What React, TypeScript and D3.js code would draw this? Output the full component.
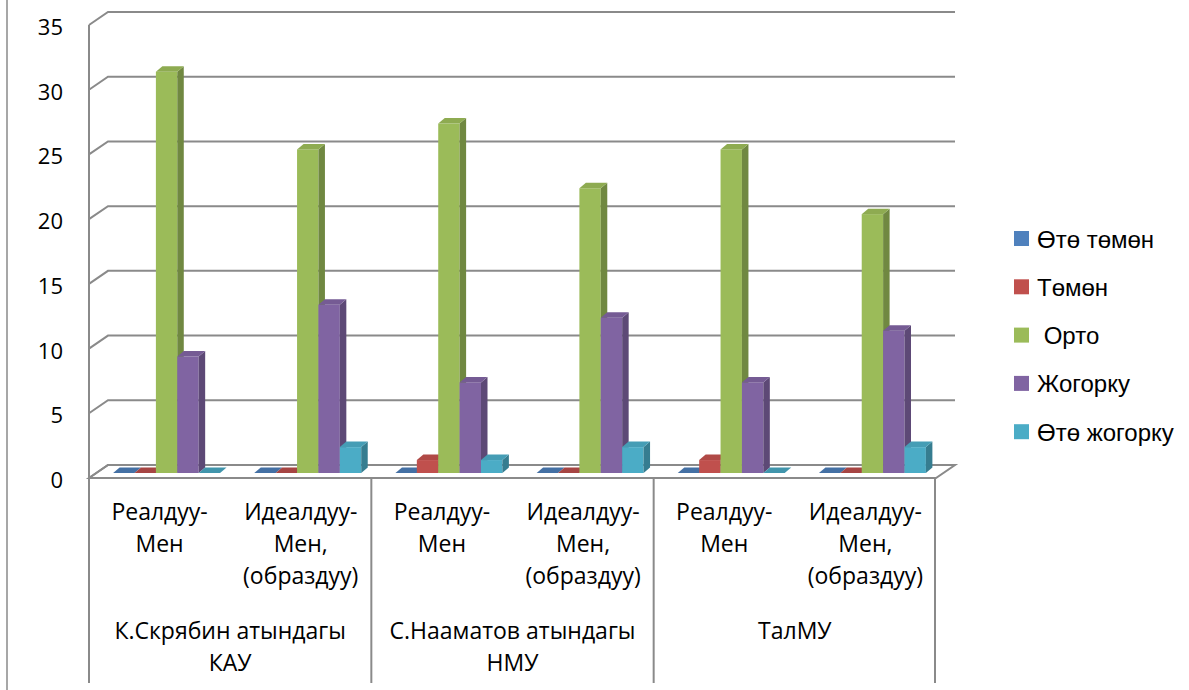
import React from "react";
import * as d3 from "d3";

const groupLabels: string[][] = [
  ["К.Скрябин атындагы", "КАУ"],
  ["С.Нааматов атындагы", "НМУ"],
  ["ТалМУ"],
];
const subLabels: string[][] = [
  ["Реалдуу-", "Мен"],
  ["Идеалдуу-", "Мен,", "(образдуу)"],
];
const seriesNames = ["Өтө төмөн", "Төмөн", " Орто", "Жогорку", "Өтө жогорку"];
const seriesColors = ["#4F81BD", "#C0504D", "#9BBB59", "#8064A2", "#4BACC6"];
const s1 = [0, 0, 0, 0, 0, 0];
const s2 = [0, 0, 1, 0, 1, 0];
const s3 = [31, 25, 27, 22, 25, 20];
const s4 = [9, 13, 7, 12, 7, 11];
const s5 = [0, 2, 1, 2, 0, 2];
const seriesValues = [s1, s2, s3, s4, s5];
const yTicks = [0, 5, 10, 15, 20, 25, 30, 35];

const W = 1189;
const H = 690;
const left = 89;
const right = 936;
const floorY = 478;
const topY = 25;
const depthDX = 19;
const depthDY = 13;
const barOffX = 7;
const barOffY = 5;
const barDX = 6.5;
const barDY = 5.5;
const gridColor = "#8a8a8a";

export default function App() {
  const cats = d3.range(6);
  const y = d3.scaleLinear().domain([0, 35]).range([floorY, topY]);
  const xGroup = d3.scaleBand<number>().domain(d3.range(3)).range([left, right]);
  const xCat = d3.scaleBand<number>().domain(cats).range([left, right]);
  const xSer = d3
    .scaleBand<number>()
    .domain(d3.range(5))
    .range([0, xCat.bandwidth()])
    .paddingInner(0)
    .paddingOuter(0.8);

  const bars: JSX.Element[] = [];
  cats.forEach((c) => {
    seriesValues.forEach((vals, si) => {
      const v = vals[c];
      const base = d3.color(seriesColors[si])!;
      const x0 = (xCat(c) as number) + (xSer(si) as number) + barOffX;
      const w = xSer.bandwidth();
      const yb = y(0) - barOffY;
      const yt = y(v) - barOffY;
      const topCol = v === 0 ? base.darker(0.4).toString() : base.darker(0.25).toString();
      const sideCol = base.darker(0.9).toString();
      bars.push(
        <g key={`${c}-${si}`}>
          {v > 0 && <rect x={x0} y={yt} width={w} height={yb - yt} fill={seriesColors[si]} />}
          {v > 0 && (
            <polygon
              points={`${x0 + w},${yt} ${x0 + w + barDX},${yt - barDY} ${x0 + w + barDX},${yb - barDY} ${x0 + w},${yb}`}
              fill={sideCol}
            />
          )}
          <polygon
            points={`${x0},${yt} ${x0 + barDX},${yt - barDY} ${x0 + w + barDX},${yt - barDY} ${x0 + w},${yt}`}
            fill={topCol}
          />
        </g>
      );
    });
  });

  const catFont = "'Open Sans', 'Noto Sans', sans-serif";

  return (
    <svg
      width={W}
      height={H}
      style={{ position: "absolute", left: 0, top: 0, background: "#fff" }}
    >
      <rect x={0} y={0} width={W} height={H} fill="#fff" />
      <line x1={7} y1={0} x2={7} y2={H} stroke={gridColor} strokeWidth={1.5} />
      {/* floor */}
      <polygon
        points={`${left},${floorY} ${left + depthDX},${floorY - depthDY} ${right + depthDX},${floorY - depthDY} ${right},${floorY}`}
        fill="#fff"
        stroke={gridColor}
        strokeWidth={2}
      />
      {/* gridlines */}
      {yTicks.map((t) => (
        <g key={t}>
          <polyline
            points={`${left},${y(t)} ${left + depthDX},${y(t) - depthDY} ${right + depthDX},${y(t) - depthDY}`}
            fill="none"
            stroke={gridColor}
            strokeWidth={2}
          />
          <text
            x={63}
            y={y(t) + 1}
            textAnchor="end"
            dominantBaseline="central"
            fontFamily={catFont}
            fontSize={22}
            fill="#000"
          >
            {t}
          </text>
        </g>
      ))}
      <line x1={left} y1={topY} x2={left} y2={683} stroke={gridColor} strokeWidth={2} />
      {bars}
      {/* category axis */}
      <line x1={left} y1={floorY} x2={right} y2={floorY} stroke={gridColor} strokeWidth={2} />
      {d3.range(1, 4).map((g) => {
        const gx = g < 3 ? (xGroup(g) as number) : right - 1;
        return <line key={g} x1={gx} y1={floorY} x2={gx} y2={683} stroke={gridColor} strokeWidth={2} />;
      })}
      {cats.map((c) => {
        const cx = (xCat(c) as number) + xCat.bandwidth() / 2;
        return (
          <text key={c} x={cx} textAnchor="middle" fontFamily={catFont} fontSize={23} fill="#000">
            {subLabels[c % 2].map((ln, i) => (
              <tspan key={i} x={cx} y={520 + i * 32}>
                {ln}
              </tspan>
            ))}
          </text>
        );
      })}
      {groupLabels.map((lines, g) => {
        const cx = (xGroup(g) as number) + xGroup.bandwidth() / 2;
        return (
          <text key={g} x={cx} textAnchor="middle" fontFamily={catFont} fontSize={23} fill="#000">
            {lines.map((ln, i) => (
              <tspan key={i} x={cx} y={639 + i * 32}>
                {ln}
              </tspan>
            ))}
          </text>
        );
      })}
      {/* legend */}
      {seriesNames.map((n, i) => (
        <g key={n} transform={`translate(1014, ${231 + i * 48.3})`}>
          <rect x={0} y={0} width={15} height={15} fill={seriesColors[i]} />
          <text
            x={23}
            y={8}
            dominantBaseline="central"
            fontFamily="'Liberation Sans', Arial, sans-serif"
            fontSize={24}
            fill="#000"
            style={{ whiteSpace: "pre" }}
          >
            {n}
          </text>
        </g>
      ))}
    </svg>
  );
}
